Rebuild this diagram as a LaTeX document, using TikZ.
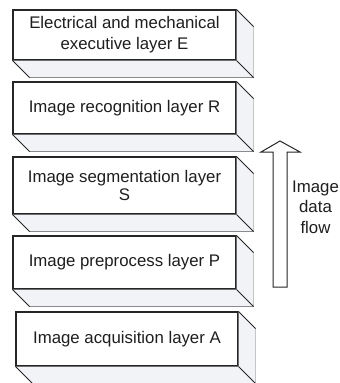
\documentclass[tikz,border=0pt]{standalone}
\usepackage{fontspec}
\setmainfont{Liberation Sans}
\usetikzlibrary{calc}
\definecolor{sidefill}{HTML}{F1F3F7}
\definecolor{backedge}{HTML}{8A8A8A}
\definecolor{txt}{HTML}{1E1E1E}
\newcommand{\drawdepth}[1]{%
  \fill[sidefill] (#1.north east) -- ++(17,17) -- ($(#1.south east)+(17,17)$)
     -- ($(#1.south west)+(17,17)$) -- (#1.south west) -- (#1.south east) -- cycle;
  \draw[backedge!50, line width=0.6pt] ($(#1.north east)+(17,17)$) -- ($(#1.south east)+(17,17)$);
  \draw[backedge, line width=1pt] ($(#1.south west)+(17,17)$) -- ($(#1.south east)+(17,17)$);
  \draw[depthline] (#1.north east) -- ++(17,17);
  \draw[depthline] (#1.south east) -- ++(17,17);
  \draw[depthline] (#1.south west) -- ++(17,17);
}
\tikzset{
  layerbox/.style={draw=black!85, line width=1.1pt, fill=white, inner sep=0pt,
    minimum width=223pt, align=center, text=txt,
    font=\fontsize{16.8}{21}\selectfont},
  depthline/.style={draw=black!85, line width=0.9pt},
  flowarrow/.style={draw=black!85, line width=1pt, fill=white, line join=miter},
  flowtext/.style={align=center, text=txt, font=\fontsize{16.8}{20.5}\selectfont}
}
\begin{document}
\begin{tikzpicture}[x=1pt,y=-1pt]
\useasboundingbox (0,0) rectangle (340,383);
% layers
\node[layerbox, minimum height=50pt] (E) at (124.5,35)
  {Electrical and mechanical\\executive layer E};
\node[layerbox, minimum height=52pt] (R) at (124.5,108) {Image recognition layer R};
\node[layerbox, minimum height=57pt, font=\fontsize{16.8}{18}\selectfont] (S) at (124.5,185.5)
  {Image segmentation layer\\S};
\node[layerbox, minimum height=53pt] (P) at (124.5,262.5) {Image preprocess layer P};
\node[layerbox, minimum height=54pt, minimum width=222pt] (A) at (127,339) {Image acquisition layer A};
\drawdepth{E}
\drawdepth{R}
\drawdepth{S}
\drawdepth{P}
\drawdepth{A}
% arrow
\coordinate (tail) at (280,287);
\coordinate (tip) at (280,141);
\draw[flowarrow] ($(tail)+(-7,0)$) -- (273,152) -- (261,152) -- (tip) -- (300,152)
  -- (287,152) -- ($(tail)+(7,0)$) -- cycle;
\node[flowtext] (flow) at (315.5,207) {Image\\data\\flow};
\end{tikzpicture}
\end{document}
